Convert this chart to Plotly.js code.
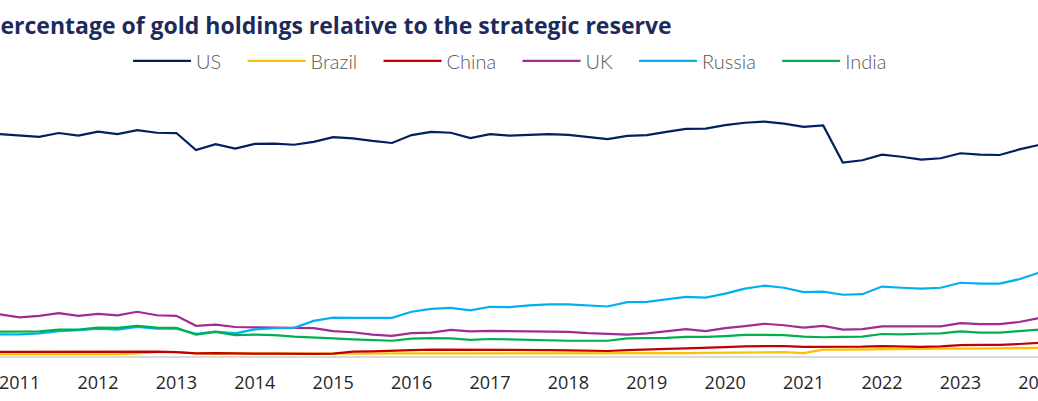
<!DOCTYPE html>
<html>
<head>
<meta charset="utf-8">
<script src="https://cdn.plot.ly/plotly-3.0.1.min.js"></script>
<style>
  html, body { margin: 0; padding: 0; overflow: hidden; background: #fff; }
  #chart { position: absolute; left: -100px; top: 0; width: 1180px; height: 401px; }
</style>
</head>
<body>
<div id="chart"></div>
<script>
// quarterly, 2010 Q4 .. 2024 Q1 (share of gold in reserves, %)
const firstYear = 2010, firstQ = 4, nQuarters = 54;
const quarters = [];
for (let i = 0; i < nQuarters; i++) {
    const q = (firstQ - 1 + i) % 4 + 1;
    const y = firstYear + Math.floor((firstQ - 1 + i) / 4);
    quarters.push("Q" + q + " " + y);
}
const yearTicks = ["2011", "2012", "2013", "2014", "2015", "2016", "2017", "2018", "2019", "2020", "2021", "2022", "2023", "2024"];

const us = [75.7, 75.2, 74.8, 76.1, 75.2, 76.6, 75.7, 77.1, 76.2, 76.1,
    70.3, 72.3, 70.8, 72.4, 72.5, 72.1, 73.1, 74.7, 74.3, 73.4,
    72.7, 75.4, 76.5, 76.2, 74.4, 75.7, 75.2, 75.5, 75.7, 75.5,
    74.7, 74.0, 75.1, 75.4, 76.5, 77.5, 77.6, 78.8, 79.6, 80.0,
    79.3, 78.2, 78.7, 66.0, 66.8, 68.7, 68.0, 67.0, 67.5, 69.2,
    68.7, 68.6, 70.5, 72.0];
const brazil = [0.6, 0.6, 0.6, 0.6, 0.6, 0.6, 0.6, 0.9, 1.3, 1.3,
    0.9, 0.8, 0.8, 0.8, 0.8, 0.8, 0.8, 0.8, 0.8, 0.8,
    0.8, 0.9, 0.9, 0.9, 0.9, 0.9, 0.9, 0.8, 0.8, 0.8,
    0.8, 0.8, 0.9, 0.9, 1.0, 1.0, 1.1, 1.1, 1.3, 1.3,
    1.3, 1.0, 2.2, 2.2, 2.3, 2.4, 2.4, 2.5, 2.5, 2.5,
    2.6, 2.6, 2.7, 2.8];
const china = [1.4, 1.4, 1.4, 1.4, 1.4, 1.4, 1.5, 1.6, 1.5, 1.3,
    0.9, 1.0, 0.8, 0.8, 0.8, 0.7, 0.7, 0.8, 1.5, 1.6,
    1.7, 2.0, 2.2, 2.2, 2.0, 2.2, 2.2, 2.0, 2.0, 1.9,
    1.8, 1.7, 2.0, 2.3, 2.4, 2.6, 2.7, 3.0, 3.3, 3.4,
    3.4, 3.1, 3.1, 3.1, 3.2, 3.4, 3.3, 3.1, 3.3, 3.7,
    3.8, 3.8, 4.1, 4.5];
const uk = [14.2, 13.2, 13.7, 14.6, 13.7, 14.4, 13.9, 15.1, 13.9, 13.7,
    10.3, 10.7, 9.9, 9.9, 9.7, 9.6, 9.5, 8.5, 8.1, 7.3,
    6.9, 7.8, 8.0, 8.9, 8.4, 8.6, 8.4, 8.4, 8.3, 8.2,
    7.8, 7.6, 7.3, 7.7, 8.5, 9.2, 8.5, 9.5, 10.2, 11.0,
    10.5, 9.7, 10.3, 9.0, 9.2, 10.1, 10.1, 10.1, 10.1, 11.2,
    10.9, 10.9, 11.6, 12.9];
const russia = [7.4, 7.4, 7.7, 8.5, 8.8, 9.3, 9.0, 9.9, 9.3, 9.3,
    7.6, 8.3, 7.7, 9.1, 9.5, 9.6, 12.0, 13.1, 13.0, 13.0,
    13.0, 15.1, 16.1, 16.4, 15.6, 16.8, 16.7, 17.3, 17.6, 17.6,
    17.2, 16.9, 18.4, 18.5, 19.3, 20.2, 19.9, 21.3, 23.0, 24.0,
    23.3, 21.8, 22.0, 20.9, 21.1, 23.7, 23.3, 23.0, 23.3, 25.0,
    24.7, 24.7, 26.2, 28.4];
const india = [8.3, 8.3, 8.4, 9.0, 9.0, 9.7, 9.6, 10.3, 9.7, 9.6,
    7.3, 8.2, 7.1, 7.3, 7.1, 6.6, 6.2, 6.0, 5.7, 5.5,
    5.2, 5.9, 6.1, 6.0, 5.5, 5.8, 5.6, 5.5, 5.4, 5.2,
    5.2, 5.2, 6.0, 6.0, 6.2, 6.5, 6.5, 6.8, 7.2, 7.2,
    7.1, 6.6, 6.4, 6.5, 6.6, 7.5, 7.4, 7.6, 7.7, 8.4,
    8.0, 8.0, 8.4, 9.0];

const series = [
    { name: "US", y: us, color: "#002060" },
    { name: "Brazil", y: brazil, color: "#FFC000" },
    { name: "China", y: china, color: "#C00000" },
    { name: "UK", y: uk, color: "#A02B93" },
    { name: "Russia", y: russia, color: "#00B0F0" },
    { name: "India", y: india, color: "#00B050" },
];

// padding after each legend label to spread the entries like the original
const pad = "\u00a0\u00a0\u00a0";

const traces = series.map((s, i) => ({
    x: quarters,
    y: s.y,
    name: i < series.length - 1 ? s.name + pad : s.name,
    type: "scatter",
    mode: "lines",
    line: { color: s.color, width: 2.2 },
}));

// label each year at its first quarter
const tickvals = yearTicks.map(y => "Q1 " + y);

Plotly.newPlot("chart", traces, {
    width: 1180,
    height: 401,
    margin: { l: 60, r: 40, t: 63, b: 45 },
    paper_bgcolor: "#fff",
    plot_bgcolor: "#fff",
    showlegend: true,
    title: {
        text: "Percentage of gold holdings relative to the strategic reserve",
        font: { family: "Open Sans", size: 23, color: "#1d2b5c", weight: 700 },
        xref: "container", x: 0.0729, xanchor: "left",
        yref: "container", y: 0.935, yanchor: "middle",
    },
    legend: {
        orientation: "h",
        x: 0.1556, xanchor: "left",
        y: 1.007, yanchor: "middle",
        font: { family: "Lato", size: 20, color: "#595959", weight: 300 },
        itemwidth: 58,
    },
    xaxis: {
        type: "category",
        range: [-2.041, 53.061],
        tickvals: tickvals,
        ticktext: yearTicks,
        ticks: "",
        showgrid: false,
        zeroline: false,
        showline: true,
        linecolor: "#d9d9d9",
        linewidth: 2,
        ticklabelstandoff: 9,
        tickfont: { family: "Open Sans", size: 18, color: "#262626" },
    },
    yaxis: {
        range: [0, 100],
        showgrid: false,
        zeroline: false,
        showticklabels: false,
        ticks: "",
    },
}, { displayModeBar: false, staticPlot: true });
</script>
</body>
</html>
